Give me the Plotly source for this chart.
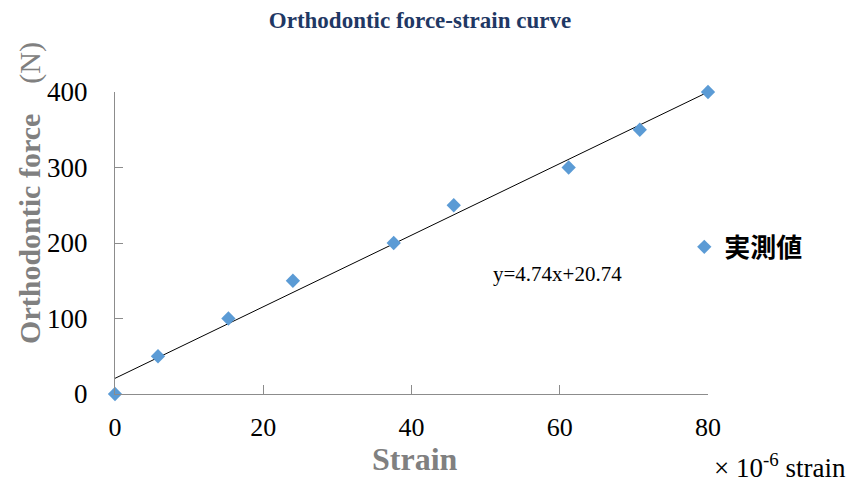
import plotly.graph_objects as go

strain = [0, 5.8, 15.3, 24.0, 37.6, 45.7, 61.2, 70.8, 80]
force = [0, 50, 100, 150, 200, 250, 300, 350, 400]
slope, intercept = 4.74, 20.74
fit_x = [0, 80]
fit_y = [slope * v + intercept for v in fit_x]
x_ticks = [0, 20, 40, 60, 80]
y_ticks = [0, 100, 200, 300, 400]

SERIF = "Liberation Serif, Times New Roman, serif"
CJK = "Noto Sans CJK JP, sans-serif"

fig = go.Figure()
fig.add_trace(go.Scatter(x=fit_x, y=fit_y, mode="lines",
                         line=dict(color="#000000", width=1),
                         showlegend=False, hoverinfo="skip", cliponaxis=False))
fig.add_trace(go.Scatter(x=strain, y=force, mode="markers", name="実測値",
                         marker=dict(symbol="diamond", size=11, color="#5B9BD5"),
                         cliponaxis=False))

fig.update_layout(
    width=858, height=484,
    margin=dict(l=115, r=149.5, t=92, b=90),
    paper_bgcolor="white", plot_bgcolor="white",
    showlegend=True,
    legend=dict(x=0.96, y=0.487, xanchor="left", yanchor="middle",
                font=dict(family=CJK, size=26, color="#000000", weight="bold"),
                bgcolor="rgba(0,0,0,0)", itemwidth=30),
    title=dict(text="<b>Orthodontic force-strain curve</b>", x=0.4895, y=0.958,
               xanchor="center", yanchor="middle", xref="container", yref="container",
               font=dict(family=SERIF, size=23, color="#1F3864")),
    font=dict(family=SERIF),
)
fig.update_xaxes(range=[0, 80], tickvals=x_ticks, ticks="inside", ticklen=9,
                 tickcolor="#8c8c8c", showline=True, linecolor="#8c8c8c", linewidth=1,
                 showgrid=False, zeroline=False, ticklabelstandoff=10,
                 tickfont=dict(family=SERIF, size=26, color="#000000"))
fig.update_yaxes(range=[0, 400], tickvals=y_ticks, ticks="inside", ticklen=8,
                 tickcolor="#8c8c8c", showline=True, linecolor="#8c8c8c", linewidth=1,
                 showgrid=False, zeroline=False, ticklabelstandoff=21,
                 tickfont=dict(family=SERIF, size=27, color="#000000"))

fig.add_annotation(text="<b>Orthodontic force</b>　(N)", textangle=-90,
                   xref="paper", yref="paper", x=(30 - 115) / 593.5, y=0.666,
                   xanchor="center", yanchor="middle", showarrow=False,
                   font=dict(family=SERIF, size=30, color="#808080"))
fig.add_annotation(text="<b>Strain</b>", xref="paper", yref="paper",
                   x=(415 - 115) / 593.5, y=(393.7 - 459) / 301.4,
                   xanchor="center", yanchor="middle", showarrow=False,
                   font=dict(family=SERIF, size=32, color="#808080"))
fig.add_annotation(text="y=4.74x+20.74", xref="paper", yref="paper",
                   x=(558 - 115) / 593.5, y=(393.7 - 274) / 301.4,
                   xanchor="center", yanchor="middle", showarrow=False,
                   font=dict(family=SERIF, size=21, color="#000000"))
fig.add_annotation(text="× 10<sup>-6</sup> strain", xref="paper", yref="paper",
                   x=(781 - 115) / 593.5, y=(393.7 - 466) / 301.4,
                   xanchor="center", yanchor="middle", showarrow=False,
                   font=dict(family=SERIF, size=27, color="#000000"))

fig.write_html("out.html")
